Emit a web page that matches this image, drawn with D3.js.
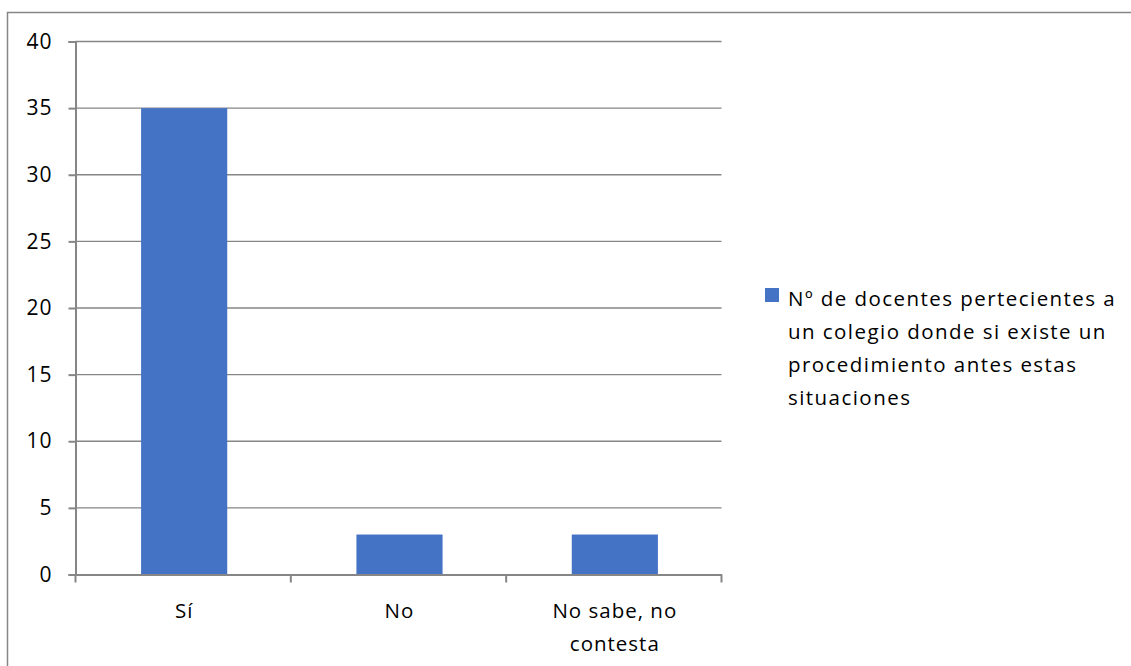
<!DOCTYPE html>
<html><head><meta charset="utf-8">
<script src="https://cdn.jsdelivr.net/npm/d3@7"></script>
<style>
html,body{margin:0;padding:0;background:#fff;}
svg{display:block;}
text{font-family:"Open Sans","Noto Sans",sans-serif;fill:#000;}
</style></head>
<body>
<script>
const categories = ["Sí", "No", "No sabe, no contesta"];
const categoryLines = [["Sí"], ["No"], ["No sabe, no", "contesta"]];
const values = [35, 3, 3];
const yTicks = [0, 5, 10, 15, 20, 25, 30, 35, 40];
const seriesName = "Nº de docentes pertecientes a un colegio donde si existe un procedimiento antes estas situaciones";
const legendLines = ["Nº de docentes pertecientes a", "un colegio donde si existe un", "procedimiento antes estas", "situaciones"];

const W = 1131, H = 666;
const svg = d3.select("body").append("svg").attr("width", W).attr("height", H);
const grey = "#868686";
const FS = 20.5;

// outer border
svg.append("rect").attr("x", 7.5).attr("y", 12.5).attr("width", 1140).attr("height", 700)
  .attr("fill", "none").attr("stroke", grey).attr("stroke-width", 1.5);

const pLeft = 75.5, pRight = 721.5, pTop = 41.5, pBottom = 574.5;
const x = d3.scaleBand().domain(categories).range([pLeft, pRight]).padding(0);
const y = d3.scaleLinear().domain([0, 40]).range([pBottom, pTop]);

// gridlines
svg.append("g").selectAll("line").data(yTicks.filter(t => t > 0)).join("line")
  .attr("x1", pLeft).attr("x2", pRight).attr("y1", d => y(d)).attr("y2", d => y(d))
  .attr("stroke", grey).attr("stroke-width", 1.3);

// bars
const bw = x.bandwidth() * 0.4;
svg.append("g").selectAll("rect").data(values).join("rect")
  .attr("x", (d, i) => x(categories[i]) + x.bandwidth() / 2 - bw / 2 + 1)
  .attr("width", bw)
  .attr("y", d => y(d))
  .attr("height", d => y(0) - y(d))
  .attr("fill", "#4472C4");

// y axis
const yAxis = d3.axisLeft(y).tickValues(yTicks).tickSize(7).tickPadding(16).tickFormat(d3.format("d"));
const gy = svg.append("g").attr("transform", `translate(${pLeft},0)`).call(yAxis);
gy.select(".domain").attr("stroke", grey).attr("stroke-width", 2);
gy.selectAll(".tick line").attr("stroke", grey).attr("stroke-width", 2);
gy.selectAll(".tick text").attr("font-size", 21).attr("fill", "#000").attr("letter-spacing", 1)
  .style("font-family", '"Open Sans","Noto Sans",sans-serif');

// x axis
const xAxis = d3.axisBottom(x).tickValues([]).tickSize(0);
const gx = svg.append("g").attr("transform", `translate(0,${pBottom})`).call(xAxis);
gx.select(".domain").attr("stroke", grey).attr("stroke-width", 2);
const bounds = categories.map(c => x(c)).concat([x(categories[categories.length-1]) + x.bandwidth()]);
gx.selectAll("line.b").data(bounds).join("line").attr("class", "b")
  .attr("x1", d => d).attr("x2", d => d).attr("y1", 0).attr("y2", 8)
  .attr("stroke", grey).attr("stroke-width", 2);

// category labels
categories.forEach((c, i) => {
  const cx = x(c) + x.bandwidth() / 2 + 1;
  categoryLines[i].forEach((ln, j) => {
    svg.append("text").attr("x", cx).attr("y", 618 + j * 33)
      .attr("text-anchor", "middle").attr("font-size", FS).attr("letter-spacing", 1).text(ln);
  });
});

// legend
svg.append("rect").attr("x", 765).attr("y", 288).attr("width", 14).attr("height", 14).attr("fill", "#4472C4");
const lg = svg.append("text").attr("font-size", FS).attr("letter-spacing", 1.45);
legendLines.forEach((ln, j) => {
  lg.append("tspan").attr("x", 788).attr("y", 306 + j * 33).text(ln);
});
</script>
</body></html>
